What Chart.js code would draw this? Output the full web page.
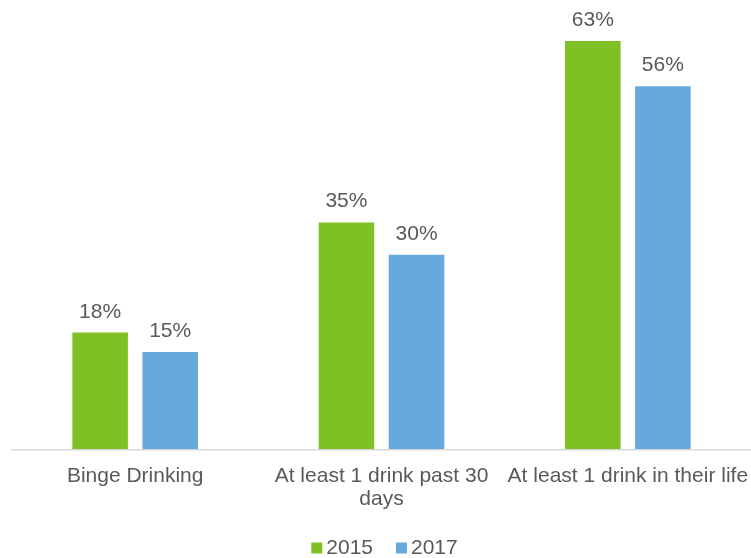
<!DOCTYPE html>
<html>
<head>
<meta charset="utf-8">
<script src="https://cdn.jsdelivr.net/npm/chart.js@4"></script>
<style>
  html, body { margin: 0; padding: 0; background: #fff; }
  #wrap { width: 751px; height: 558px; }
</style>
</head>
<body>
<div id="wrap"><canvas id="chart"></canvas></div>
<script>
const categories = ['Binge Drinking', ['At least 1 drink past 30', 'days'], 'At least 1 drink in their life'];
const seriesNames = ['2015', '2017'];
const values2015 = [18, 35, 63];
const values2017 = [15, 30, 56];

const textColor = '#595959';
const fontFamily = 'Arial, "Liberation Sans", sans-serif';
const fontSize = 21;

// draws the "NN%" above every bar
const barLabels = {
  id: 'barLabels',
  afterDatasetsDraw(chart) {
    const ctx = chart.ctx;
    ctx.save();
    ctx.font = fontSize + 'px ' + fontFamily;
    ctx.fillStyle = textColor;
    ctx.textAlign = 'center';
    ctx.textBaseline = 'alphabetic';
    chart.data.datasets.forEach((ds, i) => {
      chart.getDatasetMeta(i).data.forEach((bar, j) => {
        ctx.fillText(ds.data[j] + '%', bar.x, bar.y - 15);
      });
    });
    ctx.restore();
  }
};

// small legend at the bottom, squares close to the text like the original
const bottomLegend = {
  id: 'bottomLegend',
  afterDraw(chart) {
    const ctx = chart.ctx;
    const box = 11, gapText = 4, gapItem = 23;
    ctx.save();
    ctx.font = fontSize + 'px ' + fontFamily;
    ctx.textBaseline = 'middle';
    ctx.textAlign = 'left';
    const items = chart.data.datasets.map(ds => ({ text: ds.label, color: ds.backgroundColor, w: ctx.measureText(ds.label).width }));
    let total = 0;
    items.forEach((it, i) => { total += box + gapText + it.w + (i ? gapItem : 0); });
    const cy = 548;
    let x = (chart.chartArea.left + chart.chartArea.right) / 2 + 3 - total / 2;
    items.forEach(it => {
      ctx.fillStyle = it.color;
      ctx.fillRect(x, cy - box / 2, box, box);
      ctx.fillStyle = textColor;
      ctx.fillText(it.text, x + box + gapText, cy);
      x += box + gapText + it.w + gapItem;
    });
    ctx.restore();
  }
};

new Chart(document.getElementById('chart'), {
  type: 'bar',
  data: {
    labels: categories,
    datasets: [
      { label: seriesNames[0], data: values2015, backgroundColor: '#7FC125' },
      { label: seriesNames[1], data: values2017, backgroundColor: '#67A9DA' }
    ]
  },
  options: {
    responsive: true,
    maintainAspectRatio: false,
    animation: false,
    layout: { padding: { top: 2, left: 12, right: 0, bottom: 32.5 } },
    categoryPercentage: 0.569,
    barPercentage: 0.793,
    scales: {
      x: {
        grid: { display: false, drawTicks: false },
        border: { display: true, color: '#d9d9d9', width: 1.5 },
        ticks: {
          color: textColor,
          font: { family: fontFamily, size: fontSize, lineHeight: 1.1 },
          padding: 15,
          maxRotation: 0,
          autoSkip: false
        },
        // the last label may run to the edge, don't shrink the plot for it
        afterFit(scale) {
          scale.paddingLeft = 0;
          scale.paddingRight = 0;
        }
      },
      y: {
        display: false,
        min: 0,
        max: 69
      }
    },
    plugins: {
      legend: { display: false },
      tooltip: { enabled: false }
    }
  },
  plugins: [barLabels, bottomLegend]
});
</script>
</body>
</html>
